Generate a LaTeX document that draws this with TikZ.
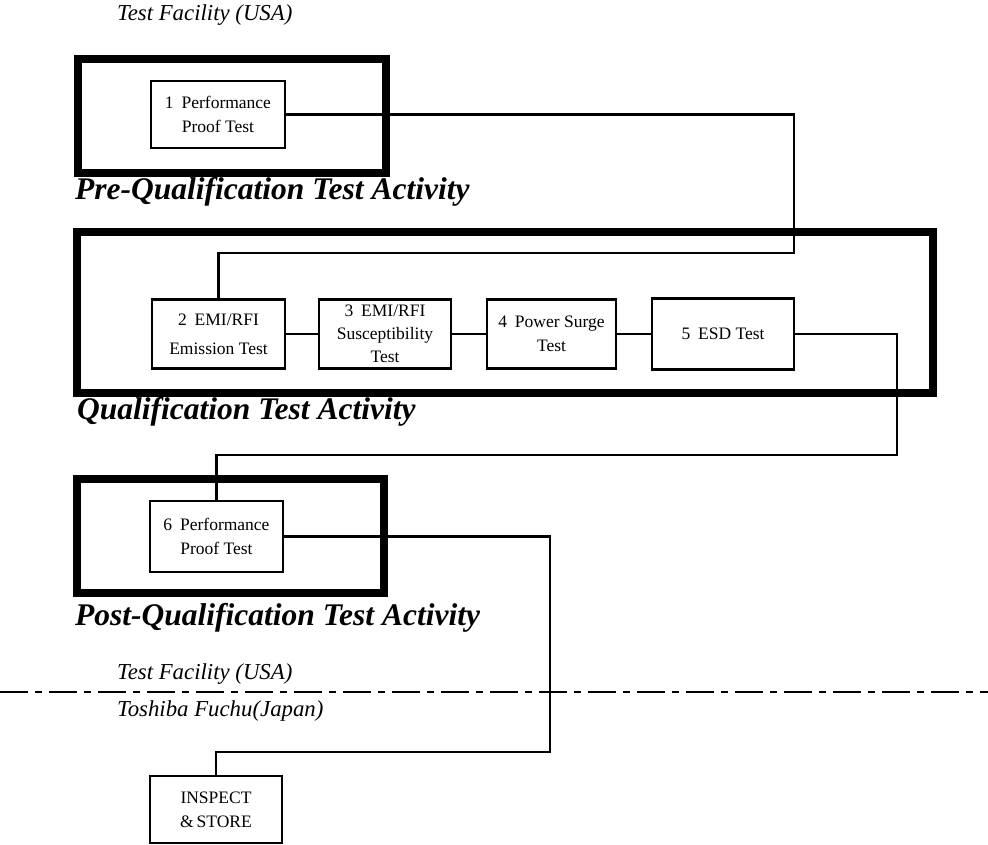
\documentclass[tikz,border=0pt]{standalone}
\usepackage{fontspec}
\setmainfont{Liberation Serif}
\begin{document}
\begin{tikzpicture}[x=1pt,y=-1pt,
  frame/.style={draw, line width=8pt, inner sep=0pt, outer sep=0pt},
  stepbox/.style={draw, line width=2.6pt, align=center, inner sep=0pt,
    font=\fontsize{17.5}{24}\selectfont},
  link/.style={line width=2.6pt},
  heading/.style={anchor=west, inner sep=0pt,
    font=\fontsize{31.5}{36}\selectfont\bfseries\itshape},
  site/.style={anchor=west, inner sep=0pt,
    font=\fontsize{22.8}{27}\selectfont\itshape},
  divider/.style={line width=2.6pt, dash pattern=on 28pt off 7pt on 7pt off 7pt}]
\useasboundingbox (0,0) rectangle (988,844);

% activity frames
\node[frame, minimum width=308pt, minimum height=114pt] (pre)  at (232,116) {};
\node[frame, minimum width=856pt, minimum height=161pt] (qual) at (505,312.5) {};
\node[frame, minimum width=307pt, minimum height=114pt] (post) at (230.5,536) {};

% frame captions
\node[heading] (preT)  at (75,192) {Pre-Qualification Test Activity};
\node[heading] (qualT) at (77,412) {Qualification Test Activity};
\node[heading] (postT) at (75,618) {Post-Qualification Test Activity};

% site labels
\node[site] (siteTop) at (117,15)  {Test Facility (USA)};
\node[site] (siteUS)  at (117,674) {Test Facility (USA)};
\node[site] (siteJP)  at (117,711) {Toshiba Fuchu(Japan)};

% test steps
\node[stepbox, minimum width=134pt, minimum height=67pt] (s1) at (218,114.5)
  {1\hspace{0.45em}Performance\\Proof Test};
\node[stepbox, minimum width=133pt, minimum height=69pt, font=\fontsize{17.5}{29}\selectfont] (s2) at (218.5,334)
  {2\hspace{0.45em}EMI/RFI\\Emission Test};
\node[stepbox, minimum width=132pt, minimum height=69pt, font=\fontsize{17.5}{23}\selectfont] (s3) at (385,334)
  {3\hspace{0.45em}EMI/RFI\\Susceptibility\\Test};
\node[stepbox, minimum width=129pt, minimum height=69pt] (s4) at (551.5,334)
  {4\hspace{0.45em}Power Surge\\Test};
\node[stepbox, minimum width=142pt, minimum height=71pt] (s5) at (723,334)
  {5\hspace{0.45em}ESD Test};
\node[stepbox, minimum width=133pt, minimum height=71pt] (s6) at (216.5,536.5)
  {6\hspace{0.45em}Performance\\Proof Test};
\node[stepbox, minimum width=132pt, minimum height=67pt] (s7) at (216,809.5)
  {INSPECT\\\&\,STORE};

% bend points of the routed connectors
\coordinate (k1) at (794,253);
\coordinate (k2) at (897,455);
\coordinate (k3) at (550,752);

% connectors
\draw[link] (s1.east) -- (s1.east -| k1) -- (k1) -- (k1 -| s2.north) -- (s2.north);
\draw[link] (s2) -- (s3);
\draw[link] (s3) -- (s4);
\draw[link] (s4) -- (s5);
\draw[link] (s5.east) -- (s5.east -| k2) -- (k2) -- (k2 -| s6.north) -- (s6.north);
\draw[link] (s6.east) -- (s6.east -| k3) -- (k3) -- (k3 -| s7.north) -- (s7.north);

% boundary between the two sites
\coordinate (divL) at (0,692);
\coordinate (divR) at (988,692);
\draw[divider] (divL) -- (divR);
\end{tikzpicture}
\end{document}
